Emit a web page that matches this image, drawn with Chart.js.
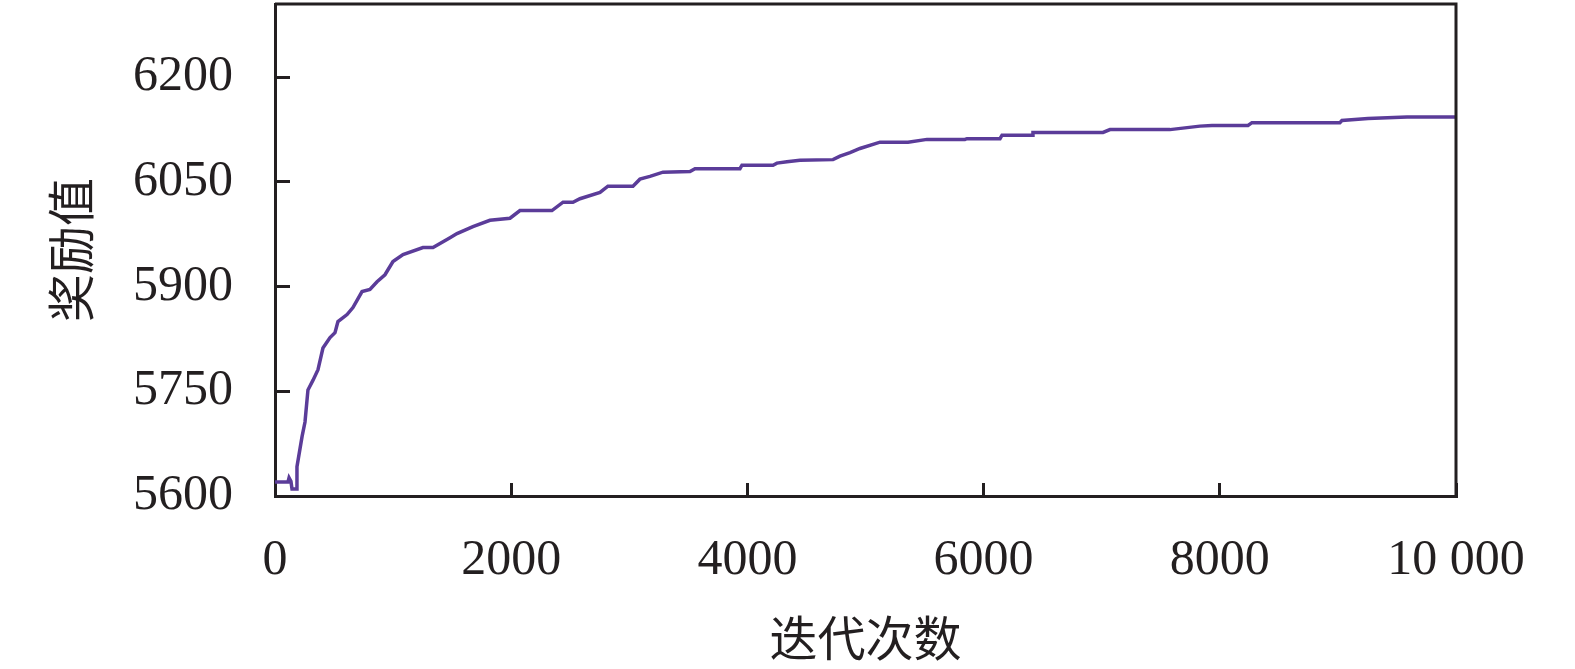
<!DOCTYPE html>
<html>
<head>
<meta charset="utf-8">
<script src="https://cdn.jsdelivr.net/npm/chart.js@4.4.1/dist/chart.umd.min.js"></script>
<style>
    html, body { margin: 0; padding: 0; background: #ffffff; }
    #wrap { width: 1575px; height: 669px; }
</style>
</head>
<body>
<div id="wrap"><canvas id="rewardChart" width="1575" height="669"></canvas></div>
<script>
// Iteration count (x) and reward value (y)
const iterations = [0, 110, 119, 135, 144, 178, 186, 229, 254, 279, 322, 364, 406, 466, 508, 533, 610, 660, 737, 804,
    864, 931, 999, 1084, 1253, 1338, 1482, 1541, 1676, 1820, 1990, 2074, 2345, 2439, 2523, 2582, 2752, 2819, 3031, 3090,
    3175, 3285, 3514, 3556, 3937, 3954, 4217, 4250, 4335, 4445, 4725, 4784, 4869, 4953, 5123, 5360, 5521, 5842, 5859, 6139,
    6156, 6410, 6418, 7011, 7070, 7578, 7832, 7934, 8239, 8272, 9017, 9034, 9255, 9585, 10000];
const rewards = [5620, 5620, 5626, 5621, 5610, 5610, 5642, 5685, 5706, 5752, 5766, 5781, 5812, 5827, 5834, 5850, 5860, 5870, 5893, 5896,
    5907, 5917, 5936, 5946, 5956, 5956, 5970, 5976, 5986, 5995, 5998, 6009, 6009, 6021, 6021, 6026, 6035, 6044, 6044, 6054,
    6058, 6064, 6065, 6069, 6069, 6074, 6074, 6077, 6079, 6081, 6082, 6087, 6092, 6098, 6107, 6107, 6111, 6111, 6112, 6112,
    6117, 6117, 6121, 6121, 6125, 6125, 6130, 6131, 6131, 6135, 6135, 6138, 6141, 6143, 6143];

// Tick labels
const xTicks = [0, 2000, 4000, 6000, 8000, 10000];
const yTicks = [5600, 5750, 5900, 6050, 6200];

const lineColor = "#5b3c99";
const axisColor = "#231f20";
const numFont = { family: "'Liberation Serif', 'Times New Roman', serif", size: 50 };
const cjkFont = { family: "'Noto Sans CJK SC', sans-serif", size: 48 };

// Top and right edges of the frame
const frameBox = {
    id: "frameBox",
    afterDatasetsDraw(chart) {
        const { ctx, chartArea } = chart;
        ctx.save();
        ctx.strokeStyle = axisColor;
        ctx.lineWidth = 3;
        ctx.beginPath();
        ctx.moveTo(chartArea.left, chartArea.top);
        ctx.lineTo(chartArea.right, chartArea.top);
        ctx.lineTo(chartArea.right, chartArea.bottom);
        ctx.stroke();
        ctx.restore();
    }
};

const ctx = document.getElementById("rewardChart").getContext("2d");
new Chart(ctx, {
    type: "line",
    data: {
        datasets: [{
            label: "奖励值",
            data: iterations.map((it, i) => ({ x: it, y: rewards[i] })),
            borderColor: lineColor,
            borderWidth: 3.5,
            pointRadius: 0,
            tension: 0,
            fill: false
        }]
    },
    options: {
        responsive: false,
        animation: false,
        devicePixelRatio: 1,
        layout: { padding: { left: 42, right: 119, top: 4, bottom: 2 } },
        plugins: {
            legend: { display: false },
            tooltip: { enabled: false }
        },
        scales: {
            x: {
                type: "linear",
                min: 0,
                max: 10000,
                afterBuildTicks: s => { s.ticks = xTicks.map(v => ({ value: v })); },
                afterFit: s => { s.height = 171; s.paddingLeft = 0; s.paddingRight = 0; },
                grid: { drawOnChartArea: false, tickLength: -13, tickWidth: 3, tickColor: axisColor },
                border: { color: axisColor, width: 3 },
                ticks: {
                    color: axisColor,
                    font: numFont,
                    padding: 48,
                    maxRotation: 0,
                    callback: v => v === 10000 ? "10 000" : String(v)
                },
                title: { display: true, text: "迭代次数", color: axisColor, font: cjkFont, padding: 0 }
            },
            y: {
                min: 5600,
                max: 6305,
                afterBuildTicks: s => { s.ticks = yTicks.map(v => ({ value: v })); },
                afterFit: s => { s.width = 233; s.paddingTop = 0; s.paddingBottom = 0; },
                grid: { drawOnChartArea: false, tickLength: -15, tickWidth: 3, tickColor: axisColor },
                border: { color: axisColor, width: 3 },
                ticks: {
                    color: axisColor,
                    font: numFont,
                    padding: 57,
                    callback: v => String(v)
                },
                title: { display: true, text: "奖励值", color: axisColor, font: cjkFont, padding: 0 }
            }
        }
    },
    plugins: [frameBox]
});
</script>
</body>
</html>
